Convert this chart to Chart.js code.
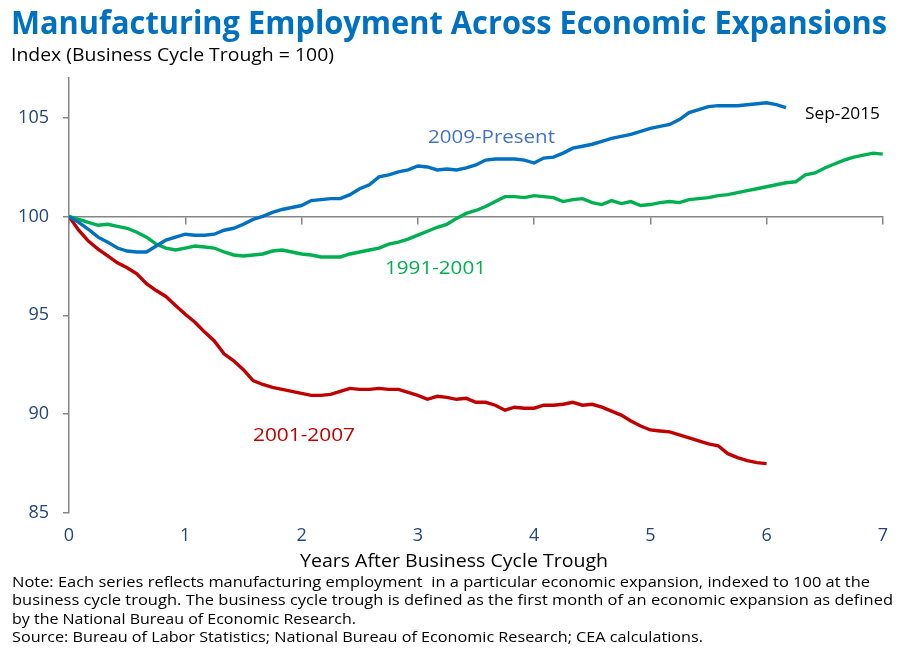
<!DOCTYPE html>
<html>
<head>
<meta charset="utf-8">
<script src="https://cdn.jsdelivr.net/npm/chart.js@4.4.1/dist/chart.umd.min.js"></script>
<style>
  html, body { margin: 0; padding: 0; background: #fff; }
  #wrap { position: relative; width: 900px; height: 653px; overflow: hidden; font-family: "Open Sans", sans-serif; }
  #c { position: absolute; left: 0; top: 0; }
  .t { position: absolute; white-space: nowrap; line-height: 1; display: inline-block; transform-origin: 0 0; }
</style>
</head>
<body>
<div id="wrap">
  <canvas id="c" width="900" height="653"></canvas>
  <div class="t" data-w="876" style="left:11px; top:5px; font-size:33px; font-weight:700; color:#0070C0;">Manufacturing Employment Across Economic Expansions</div>
  <div class="t" data-w="323" style="left:11px; top:45px; font-size:19px; color:#000;">Index (Business Cycle Trough = 100)</div>
  <div class="t" data-w="127" style="left:428px; top:127px; font-size:19px; color:#4472C4;">2009-Present</div>
  <div class="t" data-w="75" style="left:805px; top:105px; font-size:16px; color:#000;">Sep-2015</div>
  <div class="t" data-w="101" style="left:385px; top:258px; font-size:19px; color:#00B050;">1991-2001</div>
  <div class="t" data-w="102" style="left:253px; top:425px; font-size:19px; color:#C00000;">2001-2007</div>
  <div class="t" data-w="308" style="left:300px; top:551px; font-size:18px; color:#000;">Years After Business Cycle Trough</div>
  <div class="t" data-w="858" style="left:12px; top:575px; font-size:14.5px; color:#000;">Note: Each series reflects manufacturing employment&nbsp; in a particular economic expansion, indexed to 100 at the</div>
  <div class="t" data-w="881" style="left:12px; top:593px; font-size:14.5px; color:#000;">business cycle trough. The business cycle trough is defined as the first month of an economic expansion as defined</div>
  <div class="t" data-w="344" style="left:12px; top:612px; font-size:14.5px; color:#000;">by the National Bureau of Economic Research.</div>
  <div class="t" data-w="691" style="left:12px; top:630px; font-size:14.5px; color:#000;">Source: Bureau of Labor Statistics; National Bureau of Economic Research; CEA calculations.</div>
</div>
<script>
// Monthly index values (trough = 100), month 0 = business cycle trough
const expansion2009 = [100.0, 99.7, 99.35, 98.95, 98.7, 98.4, 98.25, 98.2, 98.2, 98.5,
  98.8, 98.95, 99.1, 99.05, 99.05, 99.1, 99.3, 99.4, 99.6, 99.85,
  100.0, 100.2, 100.35, 100.45, 100.55, 100.8, 100.85, 100.9, 100.9, 101.1,
  101.4, 101.6, 102.0, 102.1, 102.25, 102.35, 102.55, 102.5, 102.35, 102.4,
  102.35, 102.45, 102.6, 102.85, 102.9, 102.9, 102.9, 102.85, 102.7, 102.95,
  103.0, 103.2, 103.45, 103.55, 103.65, 103.8, 103.95, 104.05, 104.15, 104.3,
  104.45, 104.55, 104.65, 104.9, 105.25, 105.4, 105.55, 105.6, 105.6, 105.6,
  105.65, 105.7, 105.75, 105.65, 105.5];

const expansion1991 = [100.0, 99.85, 99.7, 99.55, 99.6, 99.5, 99.4, 99.2, 98.95, 98.6,
  98.4, 98.3, 98.4, 98.5, 98.45, 98.4, 98.2, 98.05, 98.0, 98.05,
  98.1, 98.25, 98.3, 98.2, 98.1, 98.05, 97.95, 97.95, 97.95, 98.1,
  98.2, 98.3, 98.4, 98.6, 98.7, 98.85, 99.05, 99.25, 99.45, 99.6,
  99.9, 100.15, 100.3, 100.5, 100.75, 101.0, 101.0, 100.95, 101.05, 101.0,
  100.95, 100.75, 100.85, 100.9, 100.7, 100.6, 100.8, 100.65, 100.75, 100.55,
  100.6, 100.7, 100.75, 100.7, 100.85, 100.9, 100.95, 101.05, 101.1, 101.2,
  101.3, 101.4, 101.5, 101.6, 101.7, 101.75, 102.1, 102.2, 102.45, 102.65,
  102.85, 103.0, 103.1, 103.2, 103.15];

const expansion2001 = [100.0, 99.3, 98.75, 98.35, 98.0, 97.65, 97.4, 97.1, 96.6, 96.25,
  95.95, 95.5, 95.05, 94.65, 94.15, 93.7, 93.05, 92.7, 92.25, 91.7,
  91.5, 91.35, 91.25, 91.15, 91.05, 90.95, 90.95, 91.0, 91.15, 91.3,
  91.25, 91.25, 91.3, 91.25, 91.25, 91.1, 90.95, 90.75, 90.9, 90.85,
  90.75, 90.8, 90.6, 90.6, 90.45, 90.2, 90.35, 90.3, 90.3, 90.45,
  90.45, 90.5, 90.6, 90.45, 90.5, 90.35, 90.15, 89.95, 89.65, 89.4,
  89.2, 89.15, 89.1, 88.95, 88.8, 88.65, 88.5, 88.4, 88.0, 87.8,
  87.65, 87.55, 87.5];

const yearTicks = [0, 1, 2, 3, 4, 5, 6, 7];
const yTicks = [85, 90, 95, 100, 105];

const toPoints = arr => arr.map((v, i) => ({ x: i / 12, y: v }));

const axisGray = '#868686';
const tickColor = '#24467A';
const fontFam = '"Open Sans", sans-serif';

new Chart(document.getElementById('c'), {
  type: 'line',
  data: {
    datasets: [
      { label: '2009-Present', data: toPoints(expansion2009), borderColor: '#0070C0', borderWidth: 3.4, pointRadius: 0, tension: 0, xAxisID: 'x', yAxisID: 'y' },
      { label: '2001-2007', data: toPoints(expansion2001), borderColor: '#C00000', borderWidth: 3.4, pointRadius: 0, tension: 0, xAxisID: 'x', yAxisID: 'y' },
      { label: '1991-2001', data: toPoints(expansion1991), borderColor: '#00B050', borderWidth: 3.4, pointRadius: 0, tension: 0, xAxisID: 'x', yAxisID: 'y' }
    ]
  },
  options: {
    responsive: false,
    animation: false,
    devicePixelRatio: 1,
    layout: { padding: { left: 0, right: 10, top: 78, bottom: 100 } },
    plugins: { legend: { display: false }, tooltip: { enabled: false } },
    scales: {
      x: {
        type: 'linear', min: 0, max: 7,
        position: { y: 100 },
        afterBuildTicks: s => { s.ticks = yearTicks.map(v => ({ value: v })); },
        ticks: { display: false },
        grid: { display: true, drawOnChartArea: false, drawTicks: true, tickLength: 7, color: axisGray, lineWidth: 1.5 },
        border: { display: true, color: axisGray, width: 1.5 }
      },
      x2: {
        type: 'linear', min: 0, max: 7,
        position: 'bottom',
        afterBuildTicks: s => { s.ticks = yearTicks.map(v => ({ value: v })); },
        afterFit: s => { s.height = 40; },
        ticks: { color: tickColor, font: { family: fontFam, size: 18 }, padding: 12, maxRotation: 0 },
        grid: { display: false, drawTicks: false },
        border: { display: false }
      },
      y: {
        type: 'linear', min: 85, max: 107,
        position: 'left',
        afterBuildTicks: s => { s.ticks = yTicks.map(v => ({ value: v })); },
        afterFit: s => { s.width = 69; },
        ticks: { color: tickColor, font: { family: fontFam, size: 18 }, padding: 14 },
        grid: { display: true, drawOnChartArea: false, drawTicks: true, tickLength: 6, color: axisGray, lineWidth: 1.5 },
        border: { display: true, color: axisGray, width: 1.5 }
      }
    }
  }
});

// fit the substitute font to the reference text widths
document.querySelectorAll('.t').forEach(el => {
  const w = parseFloat(el.dataset.w);
  const nat = el.getBoundingClientRect().width;
  if (nat > 0) el.style.transform = 'scaleX(' + (w / nat).toFixed(4) + ')';
});
</script>
</body>
</html>
